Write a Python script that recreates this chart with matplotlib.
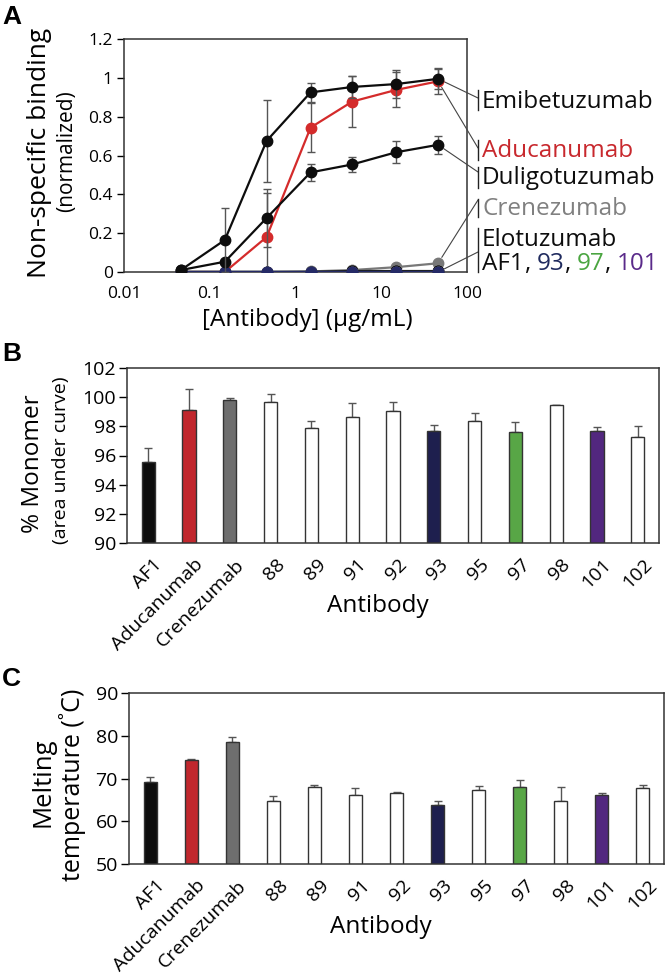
import matplotlib
matplotlib.use("Agg")
import matplotlib.pyplot as plt
from matplotlib.lines import Line2D
from matplotlib.transforms import ScaledTranslation

W, H = 667, 975
FONT = ["Open Sans", "DejaVu Sans"]
plt.rcParams['font.family'] = FONT

# ---------------- Panel A data ----------------
conc = [0.046, 0.15, 0.46, 1.5, 4.6, 15, 46]
emib = [0.01, 0.165, 0.675, 0.925, 0.953, 0.968, 0.995]
emib_err = [0.0, 0.167, 0.21, 0.05, 0.055, 0.07, 0.055]
dulig = [0.01, 0.053, 0.278, 0.513, 0.554, 0.617, 0.655]
dulig_err = [0.0, 0.0, 0.15, 0.045, 0.04, 0.057, 0.045]
aduc = [0.0, 0.0, 0.18, 0.744, 0.878, 0.938, 0.982]
aduc_err = [0.0, 0.0, 0.225, 0.125, 0.13, 0.09, 0.065]
cren = [0.0, 0.0, 0.0, 0.003, 0.01, 0.025, 0.045]
elot = [0.0, 0.0, 0.0, 0.0, 0.005, 0.005, 0.005]
af1_a = [0.0, 0.0, 0.0, 0.0, 0.003, 0.003, 0.003]
ab97_a = [0.0, 0.0, 0.0, 0.0, 0.0, 0.0, 0.0]
ab101_a = [0.0, 0.0, 0.0, 0.0, 0.0, 0.0, 0.0]
ab93_a = [0.0, 0.0, 0.0, 0.0, 0.0, 0.0, 0.0]
a_yticks = [0, 0.2, 0.4, 0.6, 0.8, 1.0, 1.2]
a_ytick_labels = ["0", "0.2", "0.4", "0.6", "0.8", "1", "1.2"]
a_xticks = [0.01, 0.1, 1, 10, 100]
a_xtick_labels = ["0.01", "0.1", "1", "10", "100"]

# ---------------- Panel B / C data ----------------
antibodies = ["AF1", "Aducanumab", "Crenezumab", "88", "89", "91", "92",
              "93", "95", "97", "98", "101", "102"]
monomer = [95.57, 99.1, 99.82, 99.68, 97.91, 98.65, 99.06, 97.7, 98.35,
           97.59, 99.43, 97.66, 97.29]
monomer_err = [0.97, 1.47, 0.13, 0.53, 0.48, 0.96, 0.64, 0.39, 0.55, 0.69,
               0.03, 0.32, 0.76]
tm = [69.2, 74.25, 78.6, 64.8, 68.0, 66.1, 66.6, 63.85, 67.2, 68.05, 64.8,
      66.1, 67.7]
tm_err = [1.1, 0.3, 1.0, 1.0, 0.5, 1.6, 0.15, 0.85, 1.0, 1.55, 3.2, 0.5, 0.8]
b_yticks = [90, 92, 94, 96, 98, 100, 102]
c_yticks = [50, 60, 70, 80, 90]

# colours
BLACK = "#0d0d0d"
RED = "#c1272d"
GREY = "#6e6e6e"
NAVY = "#1e1f4e"
GREEN = "#58a646"
PURPLE = "#52277f"
WHITE = "#ffffff"
bar_colors = [BLACK, RED, GREY, WHITE, WHITE, WHITE, WHITE, NAVY, WHITE,
              GREEN, WHITE, PURPLE, WHITE]
ERRC = "#555555"
SPINE = "#333333"


def axrect(l, t, r, b):
    return [l / W, 1 - b / H, (r - l) / W, (b - t) / H]


def fx(px):
    return px / W


def fy(py):
    return 1 - py / H


fig = plt.figure(figsize=(W / 100, H / 100), dpi=100)

# ======================= Panel A =======================
axA = fig.add_axes(axrect(124, 39, 467, 272))
axA.set_xscale('log')
axA.set_xlim(0.01, 100)
axA.set_ylim(0, 1.2)

mk = dict(marker='o', markersize=7.5, linewidth=1.6)
eb = dict(ecolor=ERRC, elinewidth=1.0, capsize=3, capthick=1.0)

axA.errorbar(conc, cren, color="#787878", zorder=3, **mk)
axA.errorbar(conc, aduc, yerr=aduc_err, color="#d42b2b", zorder=4, **mk, **eb)
axA.errorbar(conc, elot, color=BLACK, zorder=5, **mk)
axA.errorbar(conc, af1_a, color=BLACK, zorder=5, **mk)
axA.errorbar(conc, ab97_a, color=GREEN, zorder=5, **mk)
axA.errorbar(conc, ab101_a, color=PURPLE, zorder=5, **mk)
axA.errorbar(conc, ab93_a, color="#252a66", zorder=6, **mk)
axA.errorbar(conc, dulig, yerr=dulig_err, color=BLACK, zorder=7, **mk, **eb)
axA.errorbar(conc, emib, yerr=emib_err, color=BLACK, zorder=8, **mk, **eb)

axA.set_yticks(a_yticks)
axA.set_yticklabels(a_ytick_labels)
axA.set_xticks(a_xticks)
axA.set_xticklabels(a_xtick_labels)
axA.xaxis.set_minor_locator(matplotlib.ticker.NullLocator())
axA.tick_params(axis='y', length=5, width=1, direction='out', labelsize=12.5, pad=3)
axA.tick_params(axis='x', length=0, labelsize=12.5, pad=10)
for s in axA.spines.values():
    s.set_linewidth(1.1)
    s.set_color(SPINE)

fig.text(fx(40), fy(153), "Non-specific binding", rotation=90, ha='center',
         va='center', fontsize=19)
fig.text(fx(67), fy(151), "(normalized)", rotation=90, ha='center',
         va='center', fontsize=15)
axA.set_xlabel("[Antibody] (µg/mL)", fontsize=17.5)
axA.xaxis.set_label_coords((307 - 124) / (467 - 124), (272 - 320) / (272 - 39))
axA.xaxis.label.set_va('center')

# annotations
BX = 478
ann = [
    (emib[-1], 98, (90, 110)),
    (aduc[-1], 148, (140, 160)),
    (dulig[-1], 172, (167, 188)),
    (cren[-1], 200, (199, 217)),
    (ab93_a[-1], 252, (228, 272)),
]
for yv, ty, _ in ann:
    axA.annotate('', xy=(conc[-1], yv), xycoords='data',
                 xytext=(fx(BX), fy(ty)), textcoords='figure fraction',
                 arrowprops=dict(arrowstyle='-', color='#444444', lw=0.8,
                                 shrinkA=0, shrinkB=5), annotation_clip=False)
for _, _, (y0, y1) in ann:
    fig.add_artist(Line2D([fx(BX), fx(BX)], [fy(y0), fy(y1)],
                          transform=fig.transFigure, color='#222222', lw=1.0))

LAB_FS = 17.5
TX = 482
fig.text(fx(TX), fy(102), "Emibetuzumab", va='center', ha='left', fontsize=LAB_FS, color=BLACK)
fig.text(fx(TX), fy(151), "Aducanumab", va='center', ha='left', fontsize=LAB_FS, color="#c8282d")
fig.text(fx(TX), fy(178), "Duligotuzumab", va='center', ha='left', fontsize=LAB_FS, color=BLACK)
fig.text(fx(TX), fy(209), "Crenezumab", va='center', ha='left', fontsize=LAB_FS, color="#808080")
fig.text(fx(TX), fy(240), "Elotuzumab", va='center', ha='left', fontsize=LAB_FS, color=BLACK)

# multicoloured line
full = "AF1, 93, 97, 101"
tokens = [("AF1", BLACK), (",", BLACK), ("93", "#1f2a5e"), (",", BLACK),
          ("97", "#4aa540"), (",", BLACK), ("101", "#5a2a8a")]
renderer = fig.canvas.get_renderer()


def text_w(s):
    t = fig.text(0, 0, s, fontsize=LAB_FS)
    w = t.get_window_extent(renderer=renderer).width
    t.remove()
    return w


pos = 0
for tok, col in tokens:
    idx = full.index(tok, pos)
    prefix = full[:idx]
    off = 0 if idx == 0 else text_w(prefix + tok) - text_w(tok)
    fig.text(fx(TX) + off / W, fy(264), tok, va='center', ha='left',
             fontsize=LAB_FS, color=col)
    pos = idx + len(tok)

# ======================= Panels B & C =======================
shift = ScaledTranslation(5 / 100, -3 / 100, fig.dpi_scale_trans)


def bar_panel(rect, vals, errs, ylim, yticks):
    ax = fig.add_axes(rect)
    x = list(range(len(antibodies)))
    ax.bar(x, vals, width=0.32, color=bar_colors, edgecolor=SPINE,
           linewidth=1.0, zorder=2)
    ax.errorbar(x, vals, yerr=[[0] * len(errs), errs], fmt='none',
                ecolor=ERRC, elinewidth=1.0, capsize=3, capthick=1.0, zorder=1)
    ax.set_ylim(*ylim)
    ax.set_xlim(-0.52, len(antibodies) - 0.48)
    ax.set_yticks(yticks)
    ax.set_xticks(x)
    ax.set_xticklabels(antibodies, rotation=45, ha='right', va='top',
                       rotation_mode='anchor')
    ax.tick_params(axis='y', length=6, width=1, direction='out', labelsize=14, pad=2)
    ax.tick_params(axis='x', length=0, labelsize=14, pad=7)
    for lbl in ax.get_xticklabels():
        lbl.set_transform(lbl.get_transform() + shift)
    for s in ax.spines.values():
        s.set_linewidth(1.1)
        s.set_color(SPINE)
    return ax


axB = bar_panel(axrect(127, 368, 659, 543), monomer, monomer_err, (90, 102), b_yticks)
axB.set_xlabel("Antibody", fontsize=17.5)
axB.xaxis.set_label_coords((378 - 127) / (659 - 127), (543 - 606) / (543 - 368))
axB.xaxis.label.set_va('center')
fig.text(fx(33), fy(464), "% Monomer", rotation=90, ha='center', va='center', fontsize=17.5)
fig.text(fx(61), fy(460), "(area under curve)", rotation=90, ha='center', va='center', fontsize=14)

axC = bar_panel(axrect(129, 693, 664, 864), tm, tm_err, (50, 90), c_yticks)
axC.set_xlabel("Antibody", fontsize=17.5)
axC.xaxis.set_label_coords((381 - 129) / (664 - 129), (864 - 927) / (864 - 693))
axC.xaxis.label.set_va('center')
fig.text(fx(43), fy(782), "Melting", rotation=90, ha='center', va='center', fontsize=18.5)
fig.text(fx(72), fy(785), "temperature (˚C)", rotation=90, ha='center', va='center', fontsize=18)

# panel letters
for lab, yy in (("A", 17), ("B", 354), ("C", 679)):
    fig.text(fx(2), fy(yy), lab, ha='left', va='center', fontsize=19,
             fontweight='bold', family=["Liberation Sans", "DejaVu Sans"])

fig.savefig("out.png", dpi=100)
